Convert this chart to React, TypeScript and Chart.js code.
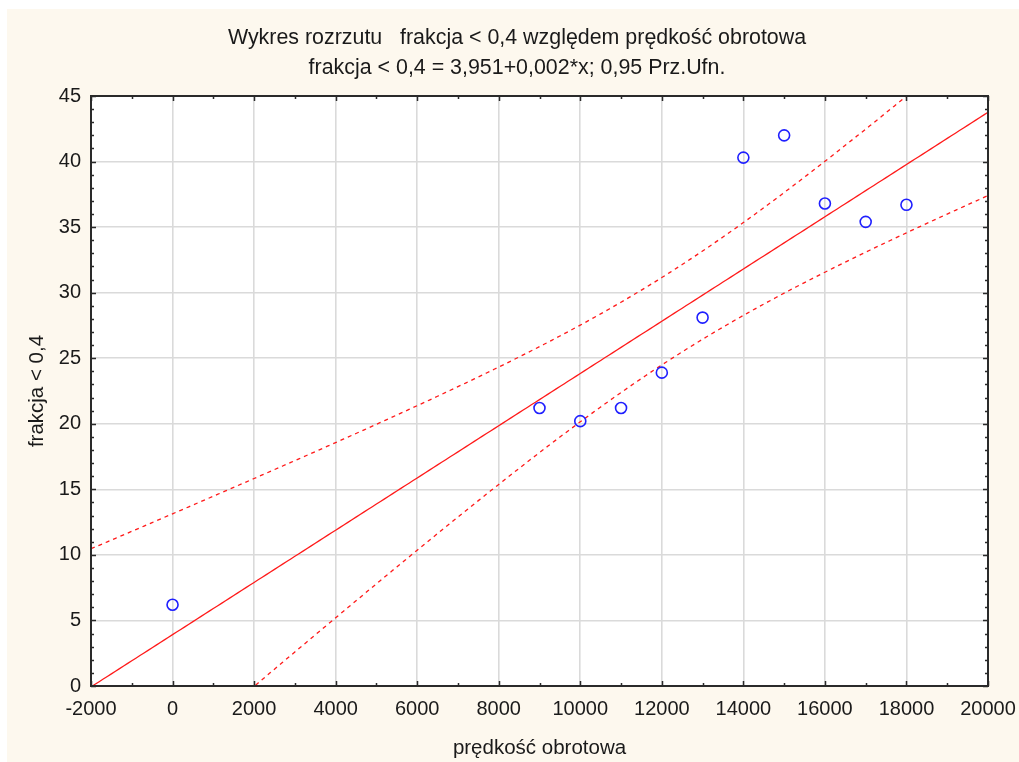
import React, { useEffect, useRef } from "react";
import { Chart, registerables } from "chart.js";

Chart.register(...registerables);

// ---- data ----
const speeds = [0, 9000, 10000, 11000, 12000, 13000, 14000, 15000, 16000, 17000, 18000];
const fractions = [6.2, 21.2, 20.2, 21.2, 23.9, 28.1, 40.3, 42.0, 36.8, 35.4, 36.7];
const xTickValues = [-2000, 0, 2000, 4000, 6000, 8000, 10000, 12000, 14000, 16000, 18000, 20000];
const yTickValues = [0, 5, 10, 15, 20, 25, 30, 35, 40, 45];
const titleLines = [
  "Wykres rozrzutu   frakcja < 0,4 względem prędkość obrotowa",
  "frakcja < 0,4 = 3,951+0,002*x; 0,95 Prz.Ufn.",
];
const xTitle = "prędkość obrotowa";
const yTitle = "frakcja < 0,4";
const tCritical = 2.262; // t(0.975, df = 9)

// ---- least squares fit and 95% confidence band, derived from the data ----
function regression(xs: number[], ys: number[]) {
  const n = xs.length;
  const mx = xs.reduce((a, b) => a + b, 0) / n;
  const my = ys.reduce((a, b) => a + b, 0) / n;
  let sxx = 0, sxy = 0;
  for (let i = 0; i < n; i++) {
    sxx += (xs[i] - mx) ** 2;
    sxy += (xs[i] - mx) * (ys[i] - my);
  }
  const b = sxy / sxx;
  const a = my - b * mx;
  let sse = 0;
  for (let i = 0; i < n; i++) sse += (ys[i] - a - b * xs[i]) ** 2;
  const s = Math.sqrt(sse / (n - 2));
  return { a, b, s, n, mx, sxx };
}

const fit = regression(speeds, fractions);
const xMin = xTickValues[0];
const xMax = xTickValues[xTickValues.length - 1];
const curveXs: number[] = [];
for (let x = xMin; x <= xMax; x += 100) curveXs.push(x);
const fitLine = curveXs.map((x) => ({ x, y: fit.a + fit.b * x }));
const half = (x: number) =>
  tCritical * fit.s * Math.sqrt(1 / fit.n + (x - fit.mx) ** 2 / fit.sxx);
const upperBand = curveXs.map((x) => ({ x, y: fit.a + fit.b * x + half(x) }));
const lowerBand = curveXs.map((x) => ({ x, y: fit.a + fit.b * x - half(x) }));

const FONT = "'Liberation Sans', Arial, sans-serif";
const TEXT = "#1a1a1a";
const W = 1012;
const H = 753;

const backgroundPlugin = {
  id: "plotBackground",
  beforeDraw(chart: any) {
    const { ctx, chartArea: ca } = chart;
    ctx.save();
    ctx.fillStyle = "#ffffff";
    ctx.fillRect(ca.left, ca.top, ca.right - ca.left, ca.bottom - ca.top);
    ctx.restore();
  },
};

const framePlugin = {
  id: "framePlugin",
  afterDraw(chart: any) {
    const { ctx, chartArea: ca, scales } = chart;
    const xs = scales.x;
    const ys = scales.y;
    ctx.save();
    // frame
    ctx.strokeStyle = "#2a2a2a";
    ctx.lineWidth = 2;
    ctx.strokeRect(ca.left, ca.top, ca.right - ca.left, ca.bottom - ca.top);
    // inward ticks
    ctx.lineWidth = 1.5;
    ctx.beginPath();
    for (let v = xMin; v <= xMax; v += 1000) {
      const px = Math.round(xs.getPixelForValue(v)) + 0.5;
      const len = v % 2000 === 0 ? 5 : 3;
      ctx.moveTo(px, ca.bottom);
      ctx.lineTo(px, ca.bottom - len);
      ctx.moveTo(px, ca.top);
      ctx.lineTo(px, ca.top + len);
    }
    for (let v = 0; v <= 45; v += 1) {
      const py = Math.round(ys.getPixelForValue(v)) + 0.5;
      const len = v % 5 === 0 ? 5 : 3;
      ctx.moveTo(ca.left, py);
      ctx.lineTo(ca.left + len, py);
      ctx.moveTo(ca.right, py);
      ctx.lineTo(ca.right - len, py);
    }
    ctx.stroke();

    // titles
    ctx.fillStyle = TEXT;
    ctx.textAlign = "center";
    ctx.textBaseline = "middle";
    ctx.font = `21.4px ${FONT}`;
    ctx.fillText(titleLines[0], 510, 29);
    ctx.fillText(titleLines[1], 510, 59);
    ctx.font = `20.5px ${FONT}`;
    ctx.fillText(xTitle, (ca.left + ca.right) / 2, 739);
    ctx.translate(30, (ca.top + ca.bottom) / 2);
    ctx.rotate(-Math.PI / 2);
    ctx.fillText(yTitle, 0, 0);
    ctx.restore();
  },
};

export default function App() {
  const ref = useRef<HTMLCanvasElement | null>(null);

  useEffect(() => {
    if (!ref.current) return;
    const chart = new Chart(ref.current, {
      type: "scatter",
      data: {
        datasets: [
          {
            label: "dane",
            data: speeds.map((x, i) => ({ x, y: fractions[i] })),
            pointStyle: "circle",
            pointRadius: 5.5,
            pointBorderWidth: 1.6,
            pointBorderColor: "#1f1fff",
            pointBackgroundColor: "rgba(0,0,0,0)",
            showLine: false,
            order: 0,
          },
          {
            label: "regresja",
            data: fitLine,
            showLine: true,
            borderColor: "#ff1a1a",
            borderWidth: 1.3,
            pointRadius: 0,
            order: 1,
            clip: 0,
          },
          {
            label: "górna",
            data: upperBand,
            showLine: true,
            borderColor: "#ff1a1a",
            borderWidth: 1.3,
            borderDash: [4, 4],
            pointRadius: 0,
            order: 1,
            clip: 0,
          },
          {
            label: "dolna",
            data: lowerBand,
            showLine: true,
            borderColor: "#ff1a1a",
            borderWidth: 1.3,
            borderDash: [4, 4],
            pointRadius: 0,
            order: 1,
            clip: 0,
          },
        ],
      },
      options: {
        animation: false,
        responsive: false,
        maintainAspectRatio: false,
        layout: { padding: { top: 87, right: 31, bottom: 0, left: 0 } },
        plugins: {
          legend: { display: false },
          tooltip: { enabled: false },
          title: { display: false },
        },
        scales: {
          x: {
            type: "linear",
            min: xMin,
            max: xMax,
            afterBuildTicks: (s: any) => {
              s.ticks = xTickValues.map((v) => ({ value: v }));
            },
            afterFit: (s: any) => {
              s.height = 76;
              s.paddingLeft = 0;
              s.paddingRight = 0;
            },
            ticks: {
              autoSkip: false,
              maxRotation: 0,
              padding: 11,
              color: TEXT,
              font: { family: FONT, size: 20 },
              callback: (v: any) => String(v),
            },
            grid: { color: "#dadada", lineWidth: 1.6, drawTicks: false },
            border: { display: false },
          },
          y: {
            type: "linear",
            min: 0,
            max: 45,
            afterBuildTicks: (s: any) => {
              s.ticks = yTickValues.map((v) => ({ value: v }));
            },
            afterFit: (s: any) => {
              s.width = 84;
              s.paddingTop = 0;
              s.paddingBottom = 0;
            },
            ticks: {
              padding: 10,
              color: TEXT,
              font: { family: FONT, size: 20 },
              callback: (v: any) => String(v),
            },
            grid: { color: "#dadada", lineWidth: 1.6, drawTicks: false },
            border: { display: false },
          },
        },
      },
      plugins: [backgroundPlugin, framePlugin],
    });
    return () => chart.destroy();
  }, []);

  return (
    <div
      style={{
        position: "absolute",
        left: 7,
        top: 9,
        width: W,
        height: H,
        background: "#fdf8ee",
      }}
    >
      <canvas ref={ref} width={W} height={H} style={{ display: "block" }} />
    </div>
  );
}
